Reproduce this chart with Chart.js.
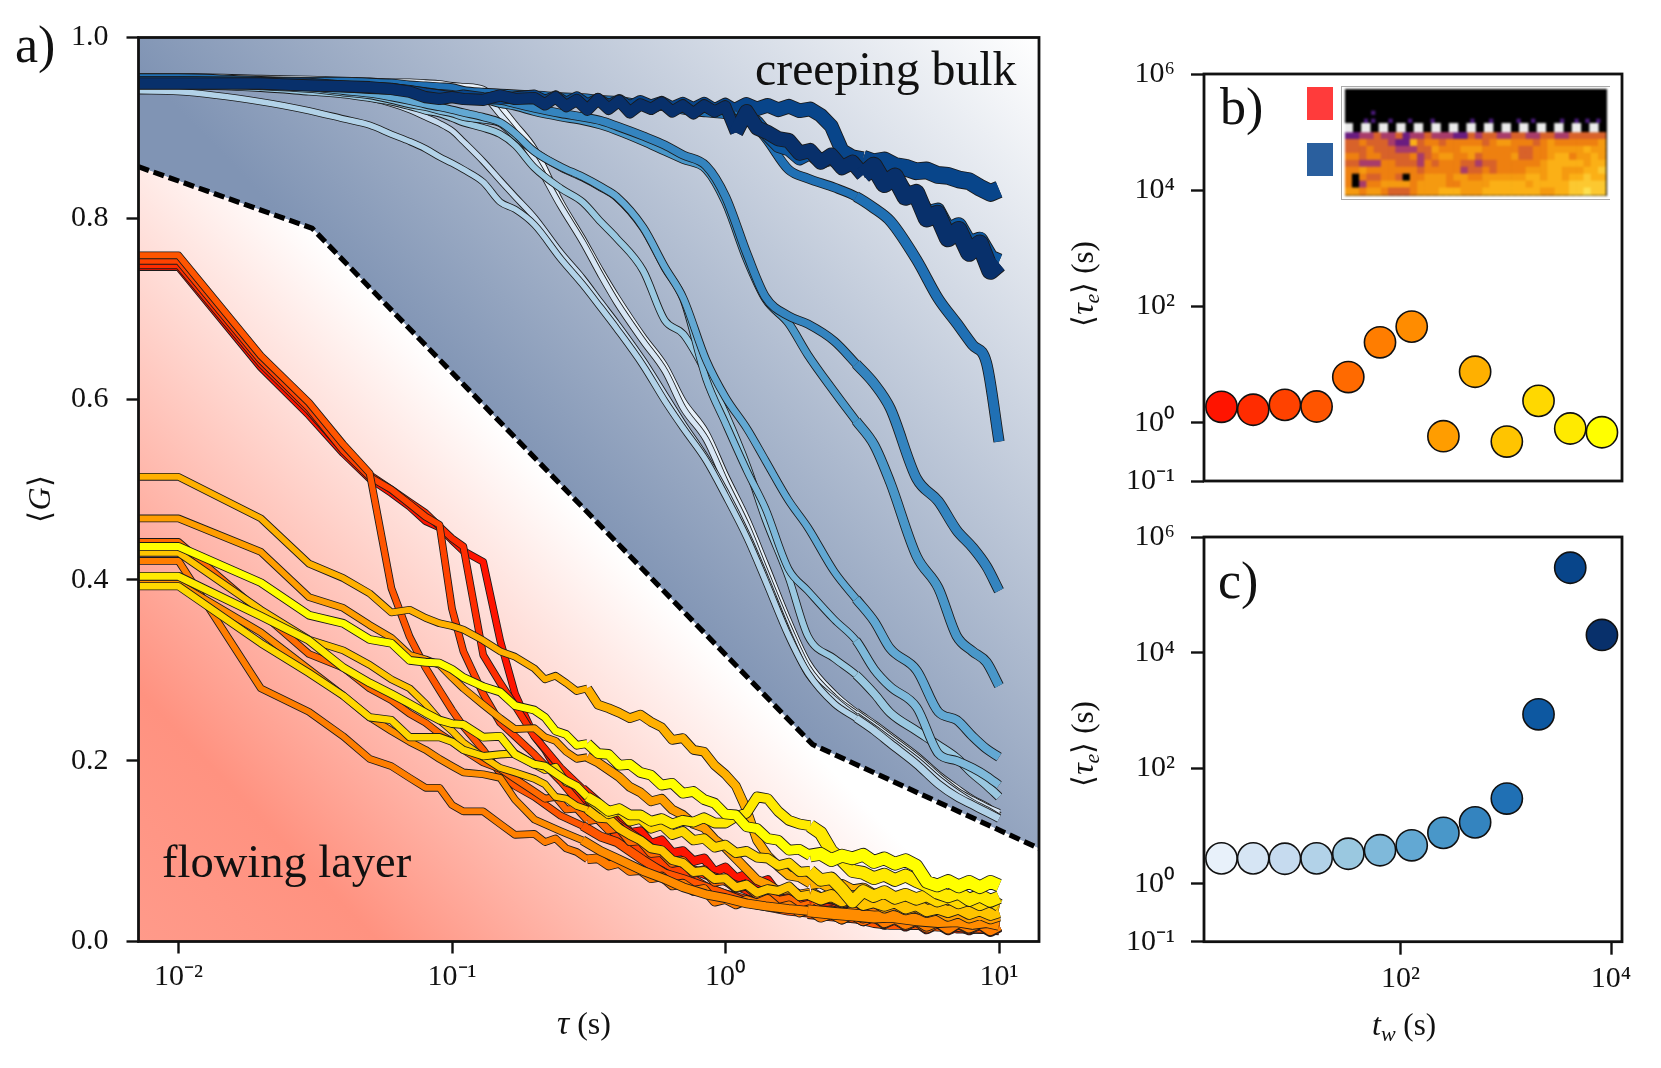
<!DOCTYPE html>
<html>
<head>
<meta charset="UTF-8">
<title>flowing layer and creeping bulk</title>
<script src="https://cdn.jsdelivr.net/npm/chart.js"></script>
<style>
  body { margin: 0; background: #fff; width: 1661px; height: 1068px; overflow: hidden; position: relative; }
  canvas { position: absolute; }
  .sq { position: absolute; left: 1307px; width: 26px; height: 33px; filter: blur(0.6px); }
  #inset { filter: blur(1.1px); background: #000; }
  #insetFrame { position: absolute; left: 1341px; top: 86px; width: 268px; height: 112px; border: 1.5px solid #aaa; border-right: none; }
</style>
</head>
<body>
<canvas id="chartA" width="1100" height="1068" style="left:0;top:0"></canvas>
<canvas id="chartB" width="601" height="520" style="left:1060px;top:0"></canvas>
<canvas id="chartC" width="601" height="588" style="left:1060px;top:480px"></canvas>
<div id="insetFrame"></div>
<canvas id="inset" width="262" height="107" style="left:1345px;top:89px"></canvas>
<div class="sq" style="top:87px;background:#ff3b3b"></div>
<div class="sq" style="top:143px;background:#2a5f9e"></div>
<script>
// ---- panel a: tau axis shared by all curves
const tau = [.00714,.01,.02,.03,.04,.05,.06,.07,.08,.09,.1,.11,.13,.15,.17,.2,.25,.3,.35,.4,.5,.6,.7,.85,1,1.2,1.4,1.7,2,2.5,3,3.5,4,5,6,7,8,9,10];
// closer samples for the noisy curves, from tau = 0.2 on
const tauFine = [.2,.2187,.2391,.2614,.2858,.3125,.3417,.3736,.4085,.4467,.4884,.534,.5839,.6384,.698,.7632,.8345,.9124,.9977,1.091,1.193,1.304,1.426,1.559,1.705,1.864,2.038,2.228,2.436,2.664,2.913,3.185,3.482,3.807,4.163,4.552,4.977,5.442,5.95,6.506,7.114,7.778,8.505,9.299,10];

// bulk curves, light to dark
const b1 = [.957,.957,.955,.954,.953,.952,.951,.951,.950,.949,.947,.946,.943,.924,.904,.877,.818,.778,.742,.713,.669,.637,.598,.563,.516,.467,.418,.355,.309,.274,.254,.240,.227,.205,.184,.169,.157,.149,.139];
const b2 = [.954,.954,.953,.952,.951,.950,.949,.947,.946,.945,.944,.941,.936,.915,.895,.865,.813,.774,.737,.707,.664,.631,.590,.555,.508,.459,.409,.348,.303,.270,.252,.238,.225,.203,.182,.166,.156,.148,.142];
const b3 = [.950,.950,.945,.943,.938,.933,.927,.920,.912,.905,.897,.885,.863,.842,.824,.801,.762,.734,.707,.684,.643,.605,.573,.535,.498,.450,.403,.341,.296,.268,.249,.235,.222,.200,.179,.164,.153,.145,.137];
const b4 = [.941,.940,.929,.919,.910,.903,.893,.885,.877,.868,.861,.854,.840,.818,.810,.793,.755,.727,.701,.678,.637,.598,.568,.532,.493,.446,.399,.338,.297,.263,.247,.233,.219,.196,.174,.160,.151,.143,.136];
const b5 = [.947,.947,.944,.940,.937,.933,.929,.924,.919,.916,.911,.906,.900,.893,.881,.856,.833,.818,.796,.778,.742,.687,.672,.629,.584,.526,.467,.403,.338,.313,.295,.274,.253,.233,.217,.203,.186,.173,.160];
const b6 = [.949,.949,.946,.943,.939,.936,.931,.926,.923,.919,.916,.912,.909,.905,.891,.874,.856,.845,.834,.823,.789,.745,.711,.622,.573,.520,.479,.412,.388,.356,.333,.301,.282,.259,.208,.200,.192,.183,.173];
const b7 = [.950,.950,.947,.945,.941,.938,.934,.930,.926,.923,.920,.917,.912,.906,.894,.874,.857,.846,.835,.824,.790,.746,.712,.643,.602,.567,.532,.488,.458,.409,.379,.354,.324,.300,.254,.245,.227,.213,.204];
const b8 = [.952,.952,.950,.949,.947,.946,.945,.944,.941,.940,.938,.936,.932,.927,.924,.918,.912,.908,.903,.897,.885,.874,.865,.854,.818,.754,.711,.684,.649,.608,.576,.549,.508,.426,.391,.338,.321,.309,.283];
const b9 = [.953,.953,.951,.950,.949,.947,.946,.945,.944,.943,.941,.939,.936,.931,.927,.922,.916,.912,.908,.902,.891,.881,.870,.858,.824,.760,.713,.692,.683,.664,.639,.617,.590,.512,.487,.455,.436,.415,.388];
const b10 = [.955,.955,.952,.951,.951,.950,.949,.947,.946,.945,.944,.941,.939,.938,.937,.936,.934,.933,.931,.930,.926,.924,.920,.917,.915,.910,.889,.854,.844,.834,.824,.811,.797,.754,.711,.684,.660,.640,.553];
const b11 = [.950,.950,.950,.947,.946,.945,.944,.941,.939,.937,.936,.933,.932,.936,.933];
const b12 = [.951,.951,.950,.949,.946,.944,.943,.941,.938,.936,.934,.936,.933,.932,.934];
const b13 = [.949,.949,.949,.947,.946,.945,.943,.940,.934,.932,.934,.932,.931,.936,.932];
const b11f = [.934,.929,.935,.928,.933,.925,.931,.924,.929,.921,.927,.921,.926,.920,.925,.919,.924,.918,.923,.904,.915,.906,.892,.880,.876,.866,.872,.862,.866,.860,.862,.854,.856,.846,.842,.828,.825,.805,.808,.786,.792,.772,.776,.756,.752];
const b12f = [.936,.930,.935,.928,.934,.926,.932,.925,.931,.924,.930,.925,.929,.923,.928,.922,.928,.921,.927,.920,.926,.921,.925,.920,.924,.919,.921,.914,.902,.875,.868,.866,.862,.864,.858,.856,.852,.853,.848,.847,.843,.841,.834,.828,.832];
const b13f = [.933,.926,.934,.924,.931,.920,.932,.921,.930,.917,.926,.921,.928,.918,.925,.916,.925,.918,.924,.895,.918,.900,.895,.888,.886,.872,.875,.862,.870,.856,.862,.848,.858,.838,.846,.824,.828,.800,.805,.778,.787,.762,.772,.742,.750];

// layer curves, red to yellow
const r1 = [.746,.746,.635,.582,.540,.512,.496,.481,.465,.458,.444,.432,.420,.333,.274];
const r1f = [.227,.212,.192,.176,.166,.154,.146,.133,.137,.120,.122,.108,.112,.098,.100,.089,.092,.077,.082,.070,.074,.064,.068,.052,.050,.040,.044,.032,.036,.027,.032,.024,.029,.020,.025,.018,.023,.015,.021,.014,.019,.014,.019,.012,.017];
const r2 = [.748,.748,.639,.587,.544,.516,.500,.486,.474,.459,.446,.437,.317,.286,.261,.227,.192,.169,.151,.130,.110,.092,.083,.074,.067,.057,.048,.043,.039,.034,.029,.027,.022,.020,.019,.016,.016,.015,.014];
const r3 = [.753,.753,.643,.590,.543,.514,.500,.484,.470,.461,.368,.321,.274,.242,.227,.207,.177,.149,.133,.119,.098,.087,.075,.060,.052,.046,.042,.039,.034,.032,.029,.027,.022,.020,.020,.018,.016,.016,.015];
const r4 = [.759,.759,.648,.596,.550,.518,.391,.337,.303,.278,.256,.238,.212,.186,.172,.160,.139,.128,.116,.110,.090,.075,.069,.060,.052,.043,.039,.034,.032,.029,.027,.022,.020,.020,.018,.018,.016,.016,.015];
const r5 = [.442,.442,.364,.318,.303,.280,.267,.252,.242,.230,.221,.212,.198,.191,.180];
const r5f = [.166,.158,.160,.146,.147,.134,.136,.124,.126,.111,.112,.098,.099,.087,.089,.076,.079,.066,.068,.059,.062,.052,.053,.045,.047,.038,.041,.030,.033,.026,.031,.024,.029,.021,.026,.019,.024,.016,.022,.015,.021,.015,.020,.013,.018];
const r6 = [.421,.421,.280,.254,.227,.202,.194,.181,.170,.170,.151,.144,.144,.130,.118];
const r6f = [.119,.110,.114,.103,.099,.091,.092,.084,.087,.078,.079,.070,.072,.062,.064,.056,.058,.044,.047,.041,.046,.042,.047,.037,.040,.032,.036,.028,.032,.026,.033,.027,.031,.022,.027,.020,.025,.018,.023,.015,.022,.016,.021,.013,.018];
const r7 = [.396,.396,.342,.301,.272,.248,.233,.221,.212,.202,.194,.187,.185,.181,.157,.135,.122,.112,.100,.092,.078,.069,.060,.052,.048,.042,.039,.036,.034,.031,.029,.027,.028,.024,.022,.023,.020,.022,.019];
const r8 = [.468,.468,.431,.381,.369,.350,.336,.317,.312,.306,.292,.280,.262,.247,.235];
const r8f = [.236,.226,.222,.210,.202,.204,.198,.190,.182,.171,.165,.155,.158,.146,.140,.130,.126,.113,.104,.092,.080,.068,.063,.056,.058,.052,.054,.047,.050,.044,.047,.041,.045,.038,.042,.036,.039,.033,.036,.029,.033,.027,.031,.026,.029];
const r9 = [.514,.514,.468,.418,.402,.385,.364,.367,.358,.352,.349,.345,.333,.321,.315];
const r9f = [.302,.290,.294,.286,.277,.280,.262,.258,.253,.247,.251,.243,.237,.223,.225,.212,.210,.195,.185,.172,.146,.112,.095,.083,.073,.071,.064,.066,.060,.062,.056,.058,.051,.053,.047,.050,.044,.046,.040,.042,.037,.040,.035,.038,.036];
const r10 = [.430,.430,.367,.334,.322,.306,.290,.280,.263,.245,.233,.220,.204,.192,.187];
const r10f = [.180,.174,.160,.158,.150,.146,.137,.136,.125,.118,.112,.103,.101,.090,.087,.077,.078,.069,.070,.060,.063,.054,.058,.056,.061,.050,.052,.047,.051,.045,.050,.041,.044,.040,.044,.037,.041,.034,.037,.033,.037,.031,.035,.030,.033];
const r11 = [.393,.393,.330,.297,.272,.248,.245,.226,.226,.226,.221,.212,.205,.207,.208];
const r11f = [.196,.190,.193,.176,.172,.159,.150,.141,.145,.133,.136,.125,.129,.118,.122,.112,.114,.104,.107,.098,.100,.093,.092,.084,.087,.077,.078,.068,.070,.058,.044,.056,.050,.055,.048,.052,.047,.051,.045,.049,.043,.047,.041,.046,.040];
const r12 = [.404,.404,.360,.333,.303,.286,.274,.263,.253,.245,.241,.240,.226,.227,.207];
const r12f = [.196,.194,.186,.178,.172,.160,.153,.144,.147,.140,.140,.133,.136,.130,.134,.132,.137,.131,.131,.138,.142,.160,.158,.144,.134,.130,.128,.120,.100,.090,.078,.076,.070,.074,.068,.073,.067,.062,.054,.050,.054,.046,.051,.045,.049];
const r13 = [.437,.437,.397,.361,.352,.334,.330,.311,.309,.308,.301,.292,.282,.276,.261];
const r13f = [.256,.248,.233,.229,.217,.219,.208,.207,.195,.196,.187,.184,.173,.175,.164,.166,.157,.153,.141,.140,.127,.125,.114,.112,.101,.102,.095,.097,.090,.095,.092,.096,.088,.092,.086,.090,.084,.066,.062,.067,.061,.066,.060,.066,.062];

// dashed limit between the two regions
const limitTau = [.00714,.0308,2.08,14];
const limitG = [.857,.789,.218,.103];

const xMajor = [.01,.1,1,10];
const xMinor = [.008,.009,.02,.03,.04,.05,.06,.07,.08,.09,.2,.3,.4,.5,.6,.7,.8,.9,2,3,4,5,6,7,8,9];

// ---- panels b and c
const tw = [2,4,8,16,32,64,128,256,512,1024,2048,4096,8192];
const tauLayer = [1.89,1.68,2.04,1.91,6.13,24.3,45.2,.589,7.57,.477,2.39,.80,.69];
const tauBulk = [2.76,2.76,2.72,2.76,3.32,3.82,4.65,7.62,11.6,29.9,857,294000,20200];
const tauTicks = [.1,1,100,10000,1000000];
const twTicks = [100,10000];

const blueColors = ['#e8f1fa','#d6e5f4','#c6dbef','#b2d2e8','#9ac8e0','#7fb9da','#62a8d3','#4997c9','#3484bf','#2070b4','#0d58a1','#08458a','#08306b'];
const redColors = ['#ff1400','#ff2c00','#ff4200','#ff5500','#ff6a00','#ff7d00','#ff8c00','#ff9d00','#ffb000','#ffc400','#ffd800','#ffea00','#ffff00'];
const blueWidths = [5,5,5,5.5,6,6,6.5,7,7.5,8,9,10,10.5];
const redWidths = [6,6,6,6,6,6,6,6,6,6,6.5,7,7];

// ---- inset map, bottom row last
const heatRows = [
  '223343342334333224344334433443344444',
  '445444322745545555545665554565555556',
  '444544433344655566655555445566666766',
  '554554444534566556455556445567756676',
  '443335544435455544344555555677777677',
  '556555555545555534454555566677666778',
  '505445540556665665566666677677677877',
  '503556666566665566667777767777788888',
  '665665444566677766677777777667788988'
];
const heatLevels = ['#000000','#3b0f70','#6a1c80','#a83c6a','#d8622a','#ee8010','#f59a10','#fbb016','#fcc830','#fde050'];
const studX = [.45,2.88,5.3,7.73,10.15,12.58,15,17.43,19.85,22.28,24.7,27.13,29.55,31.98,34.4];
const speckX = [3.9,2.9,3.9,12.1,17.6,24,26,30,32,33.5,35,6.3,9,20.2];
const speckY = [11.85,10.7,10.7,10.7,10.7,10.7,10.7,10.7,10.7,10.7,10.7,10.7,10.7,10.7];

const serif = '"Liberation Serif"';
Chart.defaults.font.family = serif;
Chart.defaults.color = '#111';
Chart.defaults.animation = false;

const supDigits = {'-':'⁻','0':'⁰','1':'¹','2':'²','3':'³','4':'⁴','5':'⁵','6':'⁶'};
function powerLabel(v) {
  const e = String(Math.round(Math.log10(v)));
  return '10' + e.split('').map(c => supDigits[c]).join('');
}

// top and right spines
const frame = {
  id: 'frame',
  afterDatasetsDraw(chart) {
    if (chart.canvas.id === 'inset') return;
    const a = chart.chartArea, c = chart.ctx;
    c.save();
    c.strokeStyle = '#111';
    c.lineWidth = 2.8;
    c.strokeRect(a.left, a.top, a.right - a.left, a.bottom - a.top);
    c.restore();
  }
};

// text with mixed italics and subscripts
const notes = {
  id: 'notes',
  afterDraw(chart, args, opts) {
    const c = chart.ctx;
    (opts.items || []).forEach(n => {
      c.save();
      c.translate(n.x, n.y);
      if (n.rot) c.rotate(n.rot);
      c.fillStyle = '#111';
      c.textBaseline = 'alphabetic';
      let w = 0;
      n.parts.forEach(p => { c.font = p.f; w += c.measureText(p.t).width; });
      let x = n.center ? -w / 2 : 0;
      n.parts.forEach(p => {
        c.font = p.f;
        c.fillText(p.t, x, p.dy || 0);
        x += c.measureText(p.t).width;
      });
      c.restore();
    });
  }
};
Chart.register(frame, notes);

function rm(s) { return s + 'px ' + serif; }
function it(s) { return 'italic ' + s + 'px ' + serif; }

function tauLabel() {
  return [{t:'⟨',f:rm(30)},{t:'τ',f:it(32)},{t:'e',f:it(22),dy:6},{t:'⟩',f:rm(30)},{t:' (s)',f:rm(31)}];
}

function blueFill(ctx) {
  const a = ctx.chart.chartArea;
  if (!a) return '#8094b4';
  const w = a.right - a.left, h = a.bottom - a.top;
  const g = ctx.chart.ctx.createLinearGradient(a.left, a.top + .033 * h, a.left + .535 * w, a.top - .479 * h);
  g.addColorStop(0, '#8094b4');
  g.addColorStop(1, '#ffffff');
  return g;
}
function pinkFill(ctx) {
  const a = ctx.chart.chartArea;
  if (!a) return '#ffc0b5';
  const w = a.right - a.left, h = a.bottom - a.top;
  const g = ctx.chart.ctx.createLinearGradient(a.left, a.bottom, a.left + .497 * w, a.bottom - .474 * h);
  g.addColorStop(0, '#ff9a8a');
  g.addColorStop(.28, '#ff9280');
  g.addColorStop(1, '#ffffff');
  return g;
}

const limitPts = limitTau.map((t, i) => ({x: t, y: limitG[i]}));
const dsA = [
  {data: limitPts, fill: 'end', backgroundColor: blueFill, borderWidth: 0, pointRadius: 0, order: 1000},
  {data: limitPts, fill: 'start', backgroundColor: pinkFill, borderWidth: 0, pointRadius: 0, order: 999},
  {data: limitPts, fill: false, borderColor: '#000', borderWidth: 5.2, borderDash: [11, 5], pointRadius: 0, order: 998}
];

// the noise makes the curves look wider at long times
function extraRed(t) { return t < .3 ? 0 : (t < 2 ? 2 : 5); }
function extraDark(t) { return t < 1 ? 0 : (t < 3 ? 3 : 6); }
function extraLight(t) { return t < 3 ? 0 : 1.5; }

let ord = 900;
function addCurve(vals, fine, color, w, extra) {
  let pts;
  if (fine) {
    pts = vals.slice(0, 15).map((v, i) => ({x: tau[i], y: v}));
    fine.forEach((v, i) => pts.push({x: tauFine[i], y: v}));
  } else {
    pts = vals.map((v, i) => ({x: tau[i], y: v}));
  }
  const common = {data: pts, fill: false, pointRadius: 0, borderJoinStyle: 'round', borderCapStyle: 'butt'};
  if (!fine && color[1] !== 'f') common.cubicInterpolationMode = 'monotone';
  dsA.push(Object.assign({}, common, {borderColor: '#1a1a1a', borderWidth: w + 1.7, order: ord--,
    segment: {borderWidth: c => w + 1.7 + extra(c.p0.parsed.x)}}));
  dsA.push(Object.assign({}, common, {borderColor: color, borderWidth: w, order: ord--,
    segment: {borderWidth: c => w + extra(c.p0.parsed.x)}}));
}
const redSets = [[r1,r1f],[r2,null],[r3,null],[r4,null],[r5,r5f],[r6,r6f],[r7,null],[r8,r8f],[r9,r9f],[r10,r10f],[r11,r11f],[r12,r12f],[r13,r13f]];
redSets.forEach((s, i) => addCurve(s[0], s[1], redColors[i], redWidths[i], extraRed));
const blueSets = [[b1,null],[b2,null],[b3,null],[b4,null],[b5,null],[b6,null],[b7,null],[b8,null],[b9,null],[b10,null],[b11,b11f],[b12,b12f],[b13,b13f]];
blueSets.forEach((s, i) => addCurve(s[0], s[1], blueColors[i], blueWidths[i], s[1] ? extraDark : extraLight));

new Chart(document.getElementById('chartA'), {
  type: 'line',
  data: {datasets: dsA},
  options: {
    responsive: false,
    layout: {autoPadding: false, padding: {top: 37.5, right: 61, bottom: 0, left: 0}},
    plugins: {
      legend: {display: false}, tooltip: {enabled: false},
      notes: {items: [
        {x: 15, y: 62, parts: [{t: 'a)', f: rm(52)}]},
        {x: 755, y: 85, parts: [{t: 'creeping bulk', f: rm(47.8)}]},
        {x: 162, y: 877, parts: [{t: 'flowing layer', f: rm(46.5)}]},
        {x: 584, y: 1034, center: true, parts: [{t: 'τ', f: it(34)}, {t: ' (s)', f: rm(32)}]},
        {x: 50, y: 499, center: true, rot: -Math.PI / 2, parts: [{t: '⟨', f: rm(31)}, {t: 'G', f: it(32)}, {t: '⟩', f: rm(31)}]}
      ]}
    },
    scales: {
      x: {
        type: 'logarithmic', min: .00714, max: 14,
        border: {display: false},
        grid: {drawOnChartArea: false, tickLength: 12, tickWidth: 2.4, tickColor: '#111'},
        ticks: {autoSkip: false, maxRotation: 0, padding: 6, font: {size: 30}, callback: v => powerLabel(v)},
        afterBuildTicks: s => { s.ticks = xMajor.map(v => ({value: v})); },
        afterFit: s => { s.height = 126.5; }
      },
      xm: {
        type: 'logarithmic', min: .00714, max: 14, position: 'bottom',
        border: {display: false},
        grid: {drawOnChartArea: false, tickLength: 7, tickWidth: 1.4, tickColor: '#111'},
        ticks: {autoSkip: false, maxRotation: 0, callback: () => ''},
        afterBuildTicks: s => { s.ticks = xMinor.map(v => ({value: v})); },
        afterFit: s => { s.height = 0; }
      },
      y: {
        min: 0, max: 1,
        border: {display: false},
        grid: {drawOnChartArea: false, tickLength: 12, tickWidth: 2.4, tickColor: '#111'},
        ticks: {stepSize: .2, padding: 18, font: {size: 30}, callback: v => v.toFixed(1)},
        afterFit: s => { s.width = 138.5; }
      }
    }
  }
});

function sideChart(id, yVals, colors, extra) {
  const pts = yVals.map((v, i) => ({x: tw[i], y: v}));
  return new Chart(document.getElementById(id), {
    type: 'scatter',
    data: {datasets: [{data: pts, backgroundColor: colors, borderColor: '#111', borderWidth: 1.6, pointRadius: 15.6, clip: false}]},
    options: {
      responsive: false,
      layout: {autoPadding: false, padding: extra.padding},
      plugins: {legend: {display: false}, tooltip: {enabled: false}, notes: {items: extra.notes}},
      scales: {
        x: extra.x,
        y: {
          type: 'logarithmic', min: .1, max: 1000000,
          border: {display: false},
          grid: {drawOnChartArea: false, tickLength: 13, tickWidth: 2.4, tickColor: '#111'},
          ticks: {autoSkip: false, padding: 16, font: {size: 30}, callback: v => powerLabel(v)},
          afterBuildTicks: s => { s.ticks = tauTicks.map(v => ({value: v})); },
          afterFit: s => { s.width = 144; }
        }
      }
    }
  });
}

sideChart('chartB', tauLayer, redColors, {
  padding: {top: 74, right: 39, bottom: 39, left: 0},
  x: {type: 'logarithmic', min: 1.365, max: 12700, display: false},
  notes: [
    {x: 160, y: 124, parts: [{t: 'b)', f: rm(52)}]},
    {x: 33, y: 284, center: true, rot: -Math.PI / 2, parts: tauLabel()}
  ]
});

sideChart('chartC', tauBulk, blueColors, {
  padding: {top: 57, right: 39, bottom: 0, left: 0},
  x: {
    type: 'logarithmic', min: 1.365, max: 12700,
    border: {display: false},
    grid: {drawOnChartArea: false, tickLength: 13, tickWidth: 2.4, tickColor: '#111'},
    ticks: {autoSkip: false, maxRotation: 0, padding: 6, font: {size: 30}, callback: v => powerLabel(v)},
    afterBuildTicks: s => { s.ticks = twTicks.map(v => ({value: v})); },
    afterFit: s => { s.height = 126.3; }
  },
  notes: [
    {x: 158, y: 118, parts: [{t: 'c)', f: rm(52)}]},
    {x: 33, y: 264, center: true, rot: -Math.PI / 2, parts: tauLabel()},
    {x: 344, y: 555, center: true, parts: [{t: 't', f: it(32)}, {t: 'w', f: it(22), dy: 6}, {t: ' (s)', f: rm(31)}]}
  ]
});

// inset map cells
const cellX = [], cellY = [], cellC = [];
heatRows.forEach((row, r) => {
  row.split('').forEach((d, c) => {
    cellX.push(c + .5);
    cellY.push(8.5 - r);
    cellC.push(heatLevels[+d]);
  });
});
new Chart(document.getElementById('inset'), {
  type: 'scatter',
  data: {datasets: [
    {data: studX.map(x => ({x: x, y: 9.7})), pointStyle: 'rect', pointRadius: 6.6, borderWidth: 0, backgroundColor: '#ececec'},
    {data: cellX.map((x, i) => ({x: x, y: cellY[i]})), pointStyle: 'rect', pointRadius: 5.6, borderWidth: 0, backgroundColor: cellC},
    {data: speckX.map((x, i) => ({x: x, y: speckY[i]})), pointStyle: 'rect', pointRadius: 3, borderWidth: 0, backgroundColor: '#4a1a7a'}
  ]},
  options: {
    responsive: false,
    layout: {autoPadding: false, padding: 0},
    plugins: {legend: {display: false}, tooltip: {enabled: false}},
    scales: {x: {display: false, min: 0, max: 36.2}, y: {display: false, min: -.15, max: 15.28}}
  }
});
</script>
</body>
</html>
